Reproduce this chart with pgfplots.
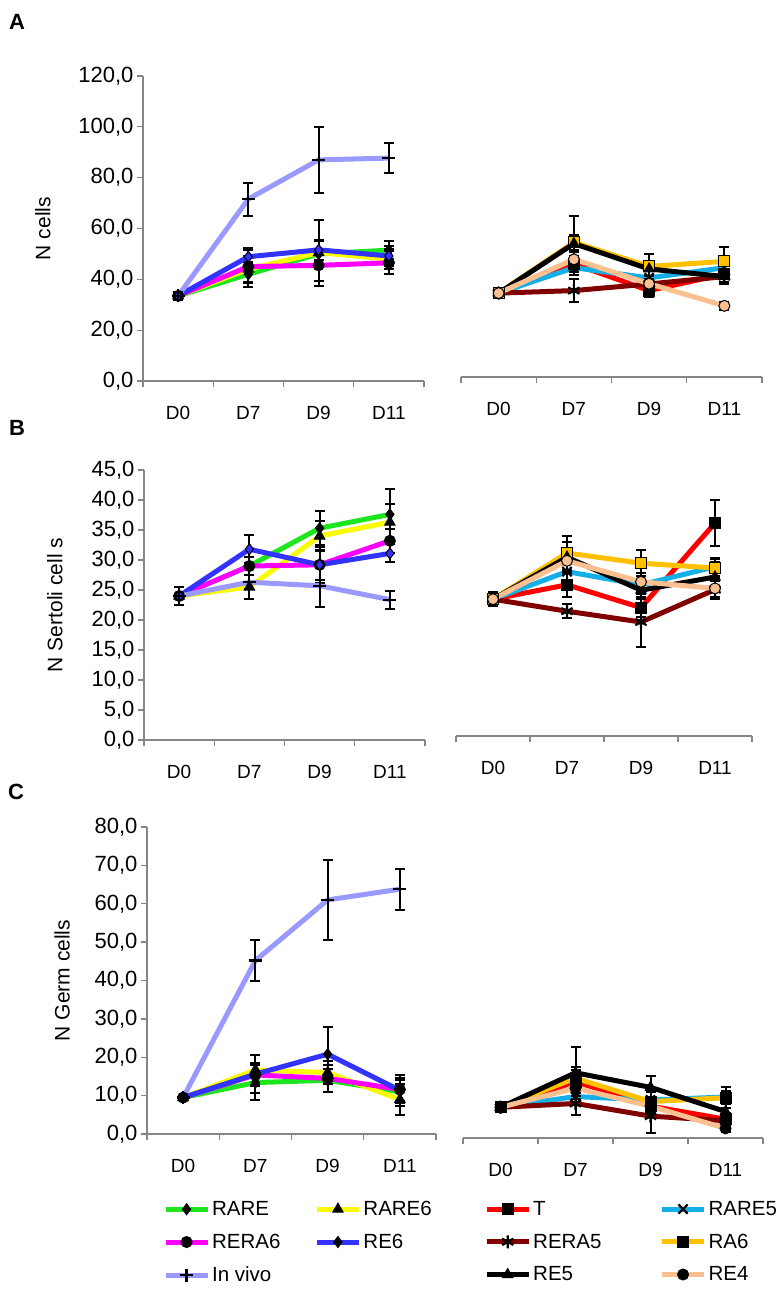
\documentclass[border=0pt]{standalone}
\usepackage{pgfplots}
\pgfplotsset{compat=1.18}
\usepackage{fontspec}
\setmainfont{Liberation Sans}
\definecolor{axgray}{RGB}{134,134,134}
\definecolor{cRARE}{RGB}{30,230,30}
\definecolor{cRARE6}{RGB}{250,250,0}
\definecolor{cRERA6}{RGB}{255,0,255}
\definecolor{cRE6}{RGB}{51,51,255}
\definecolor{cVIVO}{RGB}{153,153,255}
\definecolor{cT}{RGB}{255,0,0}
\definecolor{cRARE5}{RGB}{20,175,230}
\definecolor{cRERA5}{RGB}{128,0,0}
\definecolor{cRA6}{RGB}{255,192,0}
\definecolor{cRE5}{RGB}{0,0,0}
\definecolor{cRE4}{RGB}{250,192,144}
\newcommand{\tf}{\fontsize{22}{26}\selectfont}
\newcommand{\lf}{\fontsize{21}{25}\selectfont}
\newcommand{\gf}{\fontsize{20.5}{24}\selectfont}
\newcommand{\xf}{\fontsize{19}{22}\selectfont}
\pgfplotsset{
  panel/.style={
    scale only axis, clip=false, xmin=0, xmax=4, ymin=0,
    axis x line*=bottom,
    axis line style={axgray, line width=1.3pt, -},
    tick style={axgray, line width=1.3pt},
    tick align=outside,
    major tick length=6pt, minor tick length=6pt,
    xtick={0.5,1.5,2.5,3.5}, xticklabels={D0,D7,D9,D11},
    minor xtick={0,1,2,3,4},
    major x tick style={draw=none},
    x tick label style={font=\xf, anchor=center, yshift=-26pt},
    y tick label style={font=\tf},
    /pgf/number format/assume math mode=true,
    yticklabel style={/pgf/number format/.cd, fixed, fixed zerofill, precision=1, use comma},
    ylabel style={font=\lf, anchor=center},
  },
  leftp/.style={panel, axis y line*=left},
  rightp/.style={panel, axis y line=none, ytick=\empty},
  ser/.style={line width=5pt, mark size=5.5pt,
     mark options={solid, fill=black, draw=black, line width=1pt},
     error bars/y dir=both, error bars/y explicit,
     error bars/error bar style={black, line width=2pt, solid},
     error bars/error mark options={black, line width=2pt, mark size=5pt, rotate=90}},
  thickmark/.style={mark size=6.5pt, every mark/.append style={line width=2.2pt}},
  legstyle/.style={
    legend columns=2, legend cell align=left,
    legend style={draw=none, fill=none, font=\gf, anchor=north west,
      inner sep=0pt, row sep=13pt,
      /tikz/every odd column/.append style={column sep=0pt},
      /tikz/every even column/.append style={column sep=#1}},
    legend image code/.code={\draw[mark repeat=2,mark phase=2] plot coordinates {(0pt,0pt) (21pt,0pt) (42pt,0pt)};},
  },
}
\begin{document}
\begin{tikzpicture}
\useasboundingbox (0,0) rectangle (777pt,-1294pt);
\node[font=\fontsize{22}{26}\selectfont\bfseries] at (17pt,-22pt) {A};
\node[font=\fontsize{22}{26}\selectfont\bfseries] at (17pt,-428pt) {B};
\node[font=\fontsize{22}{26}\selectfont\bfseries] at (16pt,-792pt) {C};

% ---------------- A left
\begin{axis}[leftp, at={(143pt,-381pt)}, anchor=south west, width=281pt, height=305pt,
  ymax=120, ytick={0,20,...,120}, ylabel={N cells},
  ylabel style={at={(axis description cs:-0.356,0.5)}}]
\addplot[ser, color=cRARE, mark=diamond*] table[x index=0,y index=1,y error index=2] {
0.5 33.5 1.5
1.5 42 5
2.5 50 5
3.5 51.5 3.5
};
\addplot[ser, color=cRARE6, mark=triangle*, mark size=6pt] table[x index=0,y index=1,y error index=2] {
0.5 33.5 1.5
1.5 44 5
2.5 50.5 13
3.5 48 4
};
\addplot[ser, color=cRERA6, mark=*] table[x index=0,y index=1,y error index=2] {
0.5 33.5 1.5
1.5 45 6.5
2.5 45.5 6
3.5 46.5 4.5
};
\addplot[ser, color=cRE6, mark=diamond*, every mark/.append style={fill=cRE6}] table[x index=0,y index=1,y error index=2] {
0.5 33.5 1.5
1.5 48.9 3.5
2.5 51.6 4
3.5 49.2 4
};
\addplot[ser, color=cVIVO, mark=+, thickmark] table[x index=0,y index=1,y error index=2] {
0.5 33.5 1.5
1.5 71.6 6.5
2.5 87 13
3.5 87.7 5.8
};
\end{axis}

% ---------------- A right
\begin{axis}[rightp, at={(461pt,-377pt)}, anchor=south west, width=301pt, height=305pt, ymax=120]
\addplot[ser, color=cT, mark=square*] table[x index=0,y index=1,y error index=2] {
0.5 33 1
1.5 44.5 3
2.5 34 2.5
3.5 40.5 2
};
\addplot[ser, color=cRARE5, mark=x, thickmark] table[x index=0,y index=1,y error index=2] {
0.5 33 1
1.5 43 3
2.5 39 3
3.5 43 2
};
\addplot[ser, color=cRERA5, mark=asterisk, thickmark] table[x index=0,y index=1,y error index=2] {
0.5 33 1
1.5 34 4.5
2.5 36.6 3
3.5 39.5 2
};
\addplot[ser, color=cRA6, mark=square*, every mark/.append style={fill=cRA6}] table[x index=0,y index=1,y error index=2] {
0.5 33 1
1.5 53 3
2.5 43.5 5
3.5 45.5 5.5
};
\addplot[ser, color=cRE5, mark=triangle*, mark size=6pt] table[x index=0,y index=1,y error index=2] {
0.5 33 1
1.5 52.5 11
2.5 42.5 6
3.5 39.5 3
};
\addplot[ser, color=cRE4, mark=*, every mark/.append style={fill=cRE4}] table[x index=0,y index=1,y error index=2] {
0.5 33 1
1.5 46.3 3
2.5 36.7 3
3.5 28 1.5
};
\end{axis}

% ---------------- B left
\begin{axis}[leftp, at={(144pt,-740pt)}, anchor=south west, width=281pt, height=270pt,
  ymax=45, ytick={0,5,...,45}, ylabel={N Sertoli cell s},
  ylabel style={at={(axis description cs:-0.317,0.5)}}]
\addplot[ser, color=cRARE, mark=diamond*] table[x index=0,y index=1,y error index=2] {
0.5 24 1.5
1.5 29 1.5
2.5 35.3 2.8
3.5 37.6 4.2
};
\addplot[ser, color=cRARE6, mark=triangle*, mark size=6pt] table[x index=0,y index=1,y error index=2] {
0.5 24 1.5
1.5 25.5 2
2.5 34 2.5
3.5 36.3 3
};
\addplot[ser, color=cRERA6, mark=*] table[x index=0,y index=1,y error index=2] {
0.5 24 1.5
1.5 29 1.5
2.5 29.2 2.5
3.5 33.2 2
};
\addplot[ser, color=cRE6, mark=diamond*, every mark/.append style={fill=cRE6}] table[x index=0,y index=1,y error index=2] {
0.5 24 1.5
1.5 31.8 2.3
2.5 29.2 3
3.5 31.1 1.5
};
\addplot[ser, color=cVIVO, mark=+, thickmark] table[x index=0,y index=1,y error index=2] {
0.5 24 1.5
1.5 26.3 1.2
2.5 25.7 3.6
3.5 23.4 1.5
};
\end{axis}

% ---------------- B right
\begin{axis}[rightp, at={(456pt,-736pt)}, anchor=south west, width=296pt, height=270pt, ymax=45]
\addplot[ser, color=cT, mark=square*] table[x index=0,y index=1,y error index=2] {
0.5 22.8 1.2
1.5 25.2 2
2.5 21.4 1.5
3.5 35.5 3.9
};
\addplot[ser, color=cRARE5, mark=x, thickmark] table[x index=0,y index=1,y error index=2] {
0.5 22.8 1.2
1.5 27.4 2
2.5 25.2 1.5
3.5 28.2 1.5
};
\addplot[ser, color=cRERA5, mark=asterisk, thickmark] table[x index=0,y index=1,y error index=2] {
0.5 22.8 1.2
1.5 20.8 1.2
2.5 19 4.1
3.5 24.4 1.5
};
\addplot[ser, color=cRA6, mark=square*, every mark/.append style={fill=cRA6}] table[x index=0,y index=1,y error index=2] {
0.5 22.8 1.2
1.5 30.5 2.8
2.5 28.8 2.2
3.5 28 1.5
};
\addplot[ser, color=cRE5, mark=triangle*, mark size=6pt] table[x index=0,y index=1,y error index=2] {
0.5 22.8 1.2
1.5 29.8 2.5
2.5 24.3 1.5
3.5 26.5 2.5
};
\addplot[ser, color=cRE4, mark=*, every mark/.append style={fill=cRE4}] table[x index=0,y index=1,y error index=2] {
0.5 22.8 1.2
1.5 29.2 2
2.5 25.7 1.5
3.5 24.6 1.5
};
\end{axis}

% ---------------- C left
\begin{axis}[leftp, legstyle=32pt, at={(147pt,-1134pt)}, anchor=south west, width=289pt, height=307pt,
  ymax=80, ytick={0,10,...,80}, ylabel={N Germ cells},
  ylabel style={at={(axis description cs:-0.294,0.5)}},
  legend style={at={(axis description cs:0.055,-0.212)}}]
\addplot[ser, color=cRARE, mark=diamond*] table[x index=0,y index=1,y error index=2] {
0.5 9.5 0.5
1.5 13.4 4.5
2.5 14 3
3.5 11 3
};
\addlegendentry{RARE}
\addplot[ser, color=cRARE6, mark=triangle*, mark size=6pt] table[x index=0,y index=1,y error index=2] {
0.5 9.5 0.5
1.5 16.7 4
2.5 16 3
3.5 9 4
};
\addlegendentry{RARE6}
\addplot[ser, color=cRERA6, mark=*] table[x index=0,y index=1,y error index=2] {
0.5 9.5 0.5
1.5 15.4 3
2.5 14.5 3.5
3.5 11.6 3
};
\addlegendentry{RERA6}
\addplot[ser, color=cRE6, mark=diamond*] table[x index=0,y index=1,y error index=2] {
0.5 9.5 0.5
1.5 15.6 5
2.5 20.8 7
3.5 11.4 4
};
\addlegendentry{RE6}
\addplot[ser, color=cVIVO, mark=+, thickmark] table[x index=0,y index=1,y error index=2] {
0.5 9.5 0.5
1.5 45.2 5.4
2.5 61 10.5
3.5 63.8 5.3
};
\addlegendentry{In vivo}
\end{axis}

% ---------------- C right
\begin{axis}[rightp, legstyle=56pt, at={(463pt,-1138pt)}, anchor=south west, width=300pt, height=307pt, ymax=80,
  legend style={at={(axis description cs:0.07,-0.199)}}]
\addplot[ser, color=cT, mark=square*] table[x index=0,y index=1,y error index=2] {
0.5 8 0.5
1.5 14.7 3
2.5 8.3 2
3.5 4.9 1.5
};
\addlegendentry{T}
\addplot[ser, color=cRARE5, mark=x, thickmark] table[x index=0,y index=1,y error index=2] {
0.5 8 0.5
1.5 10.8 2
2.5 9.9 2
3.5 10.7 1.5
};
\addlegendentry{RARE5}
\addplot[ser, color=cRERA5, mark=asterisk, thickmark] table[x index=0,y index=1,y error index=2] {
0.5 8 0.5
1.5 9 3
2.5 5.7 4.5
3.5 4.5 1
};
\addlegendentry{RERA5}
\addplot[ser, color=cRA6, mark=square*] table[x index=0,y index=1,y error index=2] {
0.5 8 0.5
1.5 15.6 3
2.5 9.5 3
3.5 10.5 2.8
};
\addlegendentry{RA6}
\addplot[ser, color=cRE5, mark=triangle*, mark size=6pt] table[x index=0,y index=1,y error index=2] {
0.5 8 0.5
1.5 17 6.8
2.5 13.2 3
3.5 6.9 2
};
\addlegendentry{RE5}
\addplot[ser, color=cRE4, mark=*] table[x index=0,y index=1,y error index=2] {
0.5 8 0.5
1.5 13 2
2.5 8.3 2
3.5 2.5 1
};
\addlegendentry{RE4}
\end{axis}
\end{tikzpicture}
\end{document}
